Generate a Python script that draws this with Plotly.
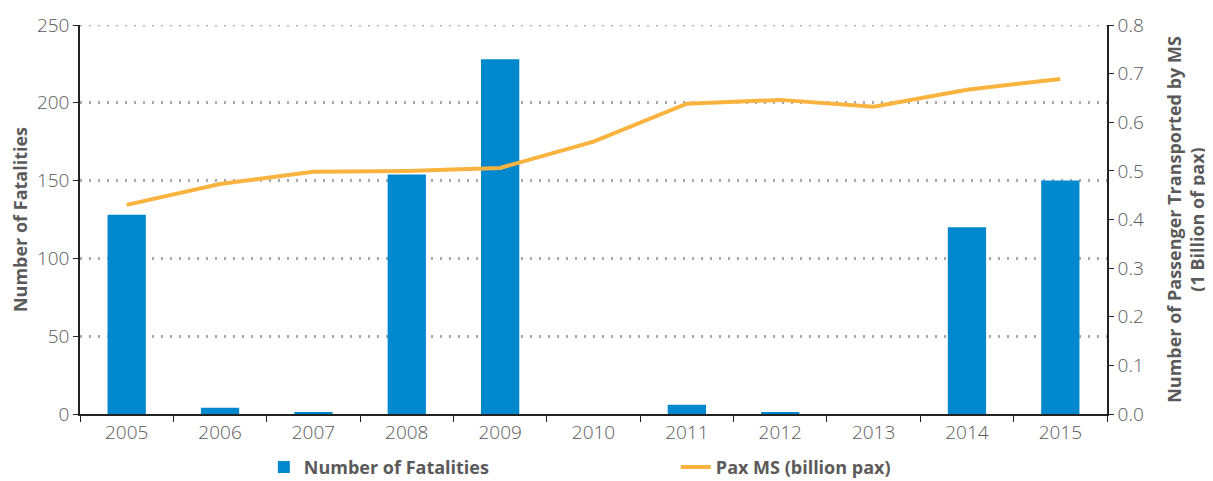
import plotly.graph_objects as go

years = ["2005", "2006", "2007", "2008", "2009", "2010", "2011", "2012", "2013", "2014", "2015"]
fatalities = [128, 4, 1, 154, 228, 0, 6, 1, 0, 120, 150]
pax_ms = [0.430, 0.473, 0.498, 0.500, 0.506, 0.560, 0.638, 0.646, 0.632, 0.667, 0.689]

FONT = "Open Sans"
GRAY = "#5a5a5a"
TICKF = dict(size=19, color=GRAY, family=FONT, weight=300)
TITLEF = dict(size=18, color=GRAY, family=FONT, weight=700)

fig = go.Figure()
fig.add_trace(go.Bar(
    x=years, y=fatalities, name="Number of Fatalities",
    marker=dict(color="#0088CE", line=dict(width=0)),
    width=0.41,
))
fig.add_trace(go.Scatter(
    x=years, y=pax_ms, name="Pax MS (billion pax)", yaxis="y2",
    mode="lines", line=dict(color="#FBB33F", width=4),
))

# dotted line at the top of the plot (gridline at 250)
fig.add_shape(type="line", xref="paper", yref="y", x0=0, x1=1, y0=250, y1=250,
              line=dict(color="#A8A8A8", width=2.5, dash="2px,7px"), layer="below")

fig.update_layout(
    width=1213, height=481,
    margin=dict(l=72, r=114, t=17, b=75),
    plot_bgcolor="white", paper_bgcolor="white",
    font=dict(family=FONT, color=GRAY, size=16),
    xaxis=dict(
        type="category", showline=True, linecolor="#222", linewidth=1.5,
        ticks="outside", tickson="boundaries", ticklen=6, tickcolor="#222",
        tickfont=TICKF, showgrid=False, automargin=False,
    ),
    yaxis=dict(
        range=[0, 250], dtick=50, showline=True, linecolor="#222", linewidth=1.5,
        ticks="outside", ticklen=5, tickcolor="#222",
        showgrid=True, gridcolor="#A8A8A8", griddash="2px,7px", gridwidth=2.5,
        zeroline=False, tickfont=TICKF, automargin=False,
        title=dict(text="Number of Fatalities", font=TITLEF, standoff=14),
    ),
    yaxis2=dict(
        range=[0, 0.8], dtick=0.1, tickformat=".1f", overlaying="y", side="right",
        showline=True, linecolor="#222", linewidth=1.5,
        ticks="outside", ticklen=5, tickcolor="#222", showgrid=False, zeroline=False,
        tickfont=TICKF, automargin=False,
        title=dict(text="Number of Passenger Transported by MS<br>(1 Billion of pax)",
                   font=TITLEF, standoff=25),
    ),
    legend=dict(
        orientation="h", x=0.179, xanchor="left", y=0.045, yanchor="middle", yref="container",
        font=dict(size=18, color=GRAY, family=FONT, weight=700),
        entrywidth=367, entrywidthmode="pixels",
        itemwidth=30,
    ),
    showlegend=True,
)

fig.write_html("out.html")
